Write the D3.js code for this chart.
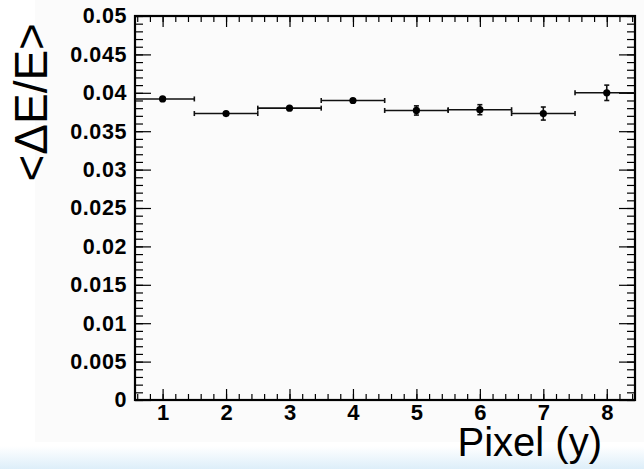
<!DOCTYPE html>
<html>
<head>
<meta charset="utf-8">
<script src="https://cdn.jsdelivr.net/npm/d3@7"></script>
<style>
  html, body { margin: 0; padding: 0; background: #ffffff; }
  svg { display: block; }
  text { font-family: "Liberation Sans", Arial, Helvetica, sans-serif; fill: #000; }
</style>
</head>
<body>
<svg id="chart" width="644" height="469"></svg>
<script>
// Mean relative energy resolution per pixel row
const pixels = [1, 2, 3, 4, 5, 6, 7, 8];
const meanRes = [0.0392, 0.0373, 0.0380, 0.0390, 0.0377, 0.0378, 0.0373, 0.0400];
const resErr = [0.0002, 0.00015, 0.00015, 0.0002, 0.0006, 0.00065, 0.00085, 0.001];
const binHalfWidth = 0.5;

const xMajorTicks = [1, 2, 3, 4, 5, 6, 7, 8];
const xTickLabels = ["1", "2", "3", "4", "5", "6", "7", "8"];
const yMajorTicks = [0, 0.005, 0.01, 0.015, 0.02, 0.025, 0.03, 0.035, 0.04, 0.045, 0.05];
const yTickLabels = ["0", "0.005", "0.01", "0.015", "0.02", "0.025", "0.03", "0.035", "0.04", "0.045", "0.05"];

const xTitle = "Pixel (y)";
const yTitle = "<\u0394E/E>";

const svg = d3.select("#chart");
const W = 644, H = 469;
const frame = { left: 135, right: 635, top: 16, bottom: 400 };

// Canvas background and bottom band
const defs = svg.append("defs");
const grad = defs.append("linearGradient")
  .attr("id", "band").attr("x1", 0).attr("y1", 0).attr("x2", 0).attr("y2", 1);
grad.append("stop").attr("offset", "0%").attr("stop-color", "#ffffff");
grad.append("stop").attr("offset", "100%").attr("stop-color", "#ddeef9");

svg.append("rect").attr("x", 0).attr("y", 0).attr("width", W).attr("height", H).attr("fill", "#ffffff");
svg.append("rect").attr("x", 35).attr("y", 0).attr("width", W - 35).attr("height", 442).attr("fill", "#fbfbfb");
svg.append("rect").attr("x", 0).attr("y", 446).attr("width", W).attr("height", H - 446).attr("fill", "url(#band)");

const x = d3.scaleLinear().domain([0.565, 8.445]).range([frame.left, frame.right]);
const y = d3.scaleLinear().domain([0, 0.05]).range([frame.bottom, frame.top]);

// Minor tick positions (5 divisions per major interval)
const xMinor = [];
for (let i = 3; i <= 42; i++) xMinor.push(i / 5);
const yMinor = [];
for (let i = 0; i <= 50; i++) yMinor.push(i / 1000);

function styleAxis(g) {
  g.select(".domain").remove();
  g.selectAll(".tick line").attr("stroke", "#000").attr("stroke-width", 1.2);
}

// Bottom axis: major with labels, minor without
svg.append("g").attr("transform", `translate(0,${frame.bottom})`)
  .call(d3.axisBottom(x).tickValues(xMinor).tickSize(-6).tickFormat(""))
  .call(styleAxis);
svg.append("g").attr("transform", `translate(0,${frame.bottom})`)
  .call(d3.axisBottom(x).tickValues(xMajorTicks).tickSize(-11).tickPadding(4)
    .tickFormat((d, i) => xTickLabels[i]))
  .call(styleAxis)
  .call(g => g.selectAll("text").attr("font-size", 22).attr("font-weight", "bold")
    .attr("font-family", "'Liberation Sans', Arial, sans-serif"));

// Top axis mirror
svg.append("g").attr("transform", `translate(0,${frame.top})`)
  .call(d3.axisTop(x).tickValues(xMinor).tickSize(-6).tickFormat(""))
  .call(styleAxis);
svg.append("g").attr("transform", `translate(0,${frame.top})`)
  .call(d3.axisTop(x).tickValues(xMajorTicks).tickSize(-11).tickFormat(""))
  .call(styleAxis);

// Left axis
svg.append("g").attr("transform", `translate(${frame.left},0)`)
  .call(d3.axisLeft(y).tickValues(yMinor).tickSize(-8).tickFormat(""))
  .call(styleAxis);
svg.append("g").attr("transform", `translate(${frame.left},0)`)
  .call(d3.axisLeft(y).tickValues(yMajorTicks).tickSize(-16).tickPadding(8)
    .tickFormat((d, i) => yTickLabels[i]))
  .call(styleAxis)
  .call(g => g.selectAll("text").attr("font-size", 21.5).attr("font-weight", "bold")
    .attr("letter-spacing", 0.6)
    .attr("font-family", "'Liberation Sans', Arial, sans-serif"));

// Right axis mirror
svg.append("g").attr("transform", `translate(${frame.right},0)`)
  .call(d3.axisRight(y).tickValues(yMinor).tickSize(-8).tickFormat(""))
  .call(styleAxis);
svg.append("g").attr("transform", `translate(${frame.right},0)`)
  .call(d3.axisRight(y).tickValues(yMajorTicks).tickSize(-16).tickFormat(""))
  .call(styleAxis);

// Frame
svg.append("rect")
  .attr("x", frame.left).attr("y", frame.top)
  .attr("width", frame.right - frame.left).attr("height", frame.bottom - frame.top)
  .attr("fill", "none").attr("stroke", "#000").attr("stroke-width", 2.2);

// Data: horizontal bin-width bars, vertical error bars, markers
const data = pixels.map((p, i) => ({ p, v: meanRes[i], e: resErr[i] }));
const clipX = v => Math.max(frame.left, Math.min(frame.right, x(v)));
const cap = 2.5;
const plot = svg.append("g").attr("stroke", "#111").attr("stroke-width", 1.6).attr("fill", "none");

data.forEach(d => {
  const xl = clipX(d.p - binHalfWidth), xr = clipX(d.p + binHalfWidth);
  const yc = y(d.v);
  plot.append("line").attr("x1", xl).attr("x2", xr).attr("y1", yc).attr("y2", yc);
  if (x(d.p - binHalfWidth) >= frame.left)
    plot.append("line").attr("x1", xl).attr("x2", xl).attr("y1", yc - cap).attr("y2", yc + cap);
  if (x(d.p + binHalfWidth) <= frame.right)
    plot.append("line").attr("x1", xr).attr("x2", xr).attr("y1", yc - cap).attr("y2", yc + cap);
  const yt = y(d.v + d.e), yb = y(d.v - d.e), xc = x(d.p);
  plot.append("line").attr("x1", xc).attr("x2", xc).attr("y1", yt).attr("y2", yb);
  plot.append("line").attr("x1", xc - cap).attr("x2", xc + cap).attr("y1", yt).attr("y2", yt);
  plot.append("line").attr("x1", xc - cap).attr("x2", xc + cap).attr("y1", yb).attr("y2", yb);
});

svg.append("g").selectAll("circle").data(data).join("circle")
  .attr("cx", d => x(d.p)).attr("cy", d => y(d.v)).attr("r", 3.6)
  .attr("fill", "#000");

// Axis titles
svg.append("text")
  .attr("x", 602).attr("y", 456)
  .attr("text-anchor", "end")
  .attr("font-size", 40)
  .text(xTitle);

svg.append("text")
  .attr("transform", "translate(47,23) rotate(-90)")
  .attr("text-anchor", "end")
  .attr("font-size", 46)
  .text(yTitle);
</script>
</body>
</html>
